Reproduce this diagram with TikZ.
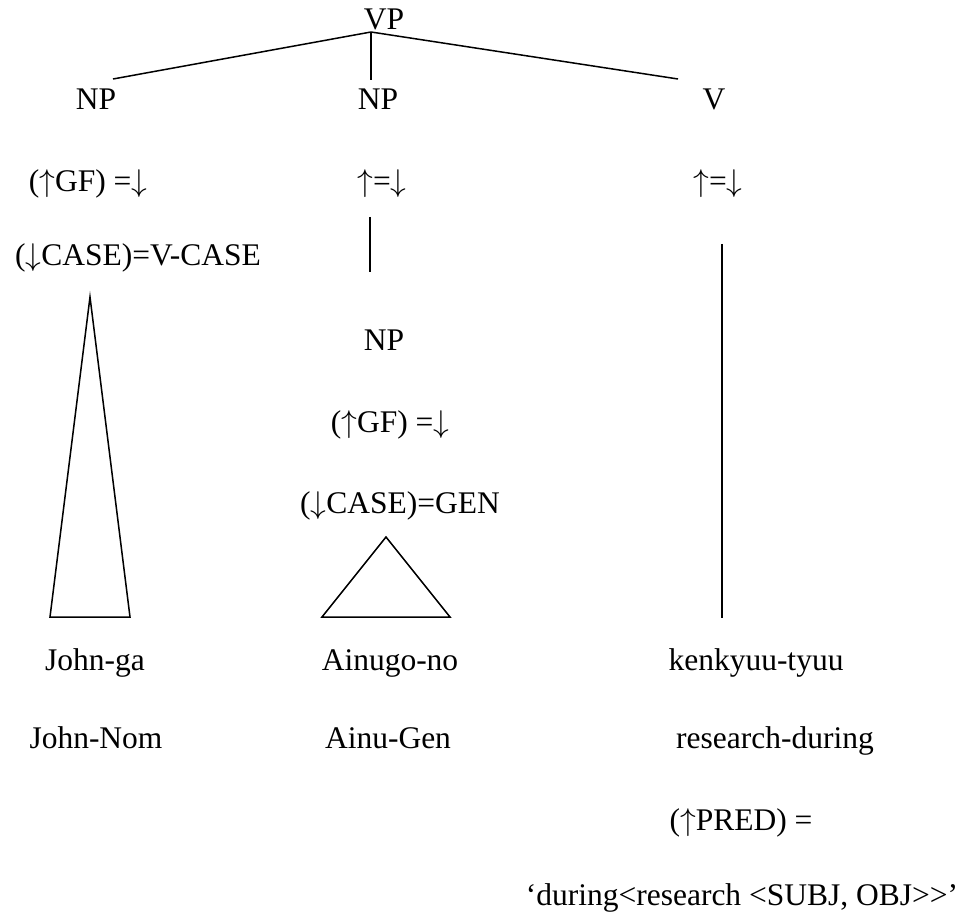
\documentclass[tikz,border=0pt]{standalone}
\usepackage{fix-cm}
\usepackage{fontspec}
\setmainfont{Liberation Serif}[Ligatures=TeXOff]
\newcommand{\uparr}{\ensuremath{\uparrow}}
\newcommand{\dnarr}{\ensuremath{\downarrow}}
\begin{document}
\begin{tikzpicture}[x=1pt,y=-1pt,
  lbl/.style={anchor=base,inner sep=0pt,font=\fontsize{31.5}{36}\selectfont},
  edge/.style={line width=1.5pt},
  tri/.style={line width=1.5pt,line join=miter}]
\useasboundingbox (0,0) rectangle (964,917);
% labels
\node[lbl] (vp) at (384,30) {VP};
\node[lbl] (np1) at (96,110) {NP};
\node[lbl] (np2) at (378,110) {NP};
\node[lbl] (v) at (714,110) {V};
\node[lbl] (gf1) at (88,192) {(\uparr GF) =\dnarr};
\node[lbl] (eq2) at (382,192) {\uparr=\dnarr};
\node[lbl] (eq3) at (718,192) {\uparr=\dnarr};
\node[lbl] (case1) at (138,266) {(\dnarr CASE)=V-CASE};
\node[lbl] (np3) at (384,350) {NP};
\node[lbl] (gf3) at (390,432) {(\uparr GF) =\dnarr};
\node[lbl] (case3) at (400,513) {(\dnarr CASE)=GEN};
\node[lbl] (w1) at (95,670) {John-ga};
\node[lbl] (w2) at (390,670) {Ainugo-no};
\node[lbl] (w3) at (756,670) {kenkyuu-tyuu};
\node[lbl] (g1) at (96,748) {John-Nom};
\node[lbl] (g2) at (388,748) {Ainu-Gen};
\node[lbl] (g3) at (775,748) {research-during};
\node[lbl] (pred) at (741,830) {(\uparr PRED) =};
\node[lbl] (sem) at (742,905) {‘during<research <SUBJ, OBJ>>’};
% tree lines
\coordinate (apex) at (371,32);
\coordinate (l1) at (113,79);
\coordinate (l2) at (371,80);
\coordinate (l3) at (678,79);
\draw[edge] (apex) -- (l1);
\draw[edge] (apex) -- (l2);
\draw[edge] (apex) -- (l3);
\coordinate (m1) at (370,217);
\coordinate (m2) at (370,272);
\draw[edge] (m1) -- (m2);
\coordinate (r1) at (722,244);
\coordinate (r2) at (722,618);
\draw[edge] (r1) -- (r2);
% triangles
\coordinate (t1a) at (90,297);
\coordinate (t1b) at (50,617);
\coordinate (t1c) at (130,617);
\draw[tri] (t1a) -- (t1b) -- (t1c) -- cycle;
\coordinate (t2a) at (386,537);
\coordinate (t2b) at (322,617);
\coordinate (t2c) at (450,617);
\draw[tri] (t2a) -- (t2b) -- (t2c) -- cycle;
\end{tikzpicture}
\end{document}
